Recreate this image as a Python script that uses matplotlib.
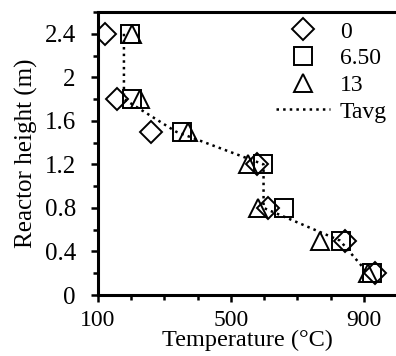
import matplotlib
matplotlib.use("Agg")
import matplotlib.pyplot as plt
from matplotlib.ticker import MultipleLocator, FuncFormatter

heights = [2.4, 1.8, 1.5, 1.2, 0.8, 0.5, 0.2]
T_0 = [121, 156, 259, 578, 611, 843, 933]
T_650 = [196, 201, 352, 596, 659, 830, 923]
T_13 = [201, 226, 370, 552, 581, 768, 912]
T_avg = [178, 178, 335, 598, 598, 828, 912]
labels = ["0", "6.50", "13", "Tavg"]
x_ticks = [100, 500, 900]

plt.rcParams['font.family'] = ['Liberation Serif', 'DejaVu Serif']
FS = 18

fig = plt.figure(figsize=(3.96, 3.56), dpi=100)
ax = fig.add_axes([98/396, 1-295/356, 1.0 - 98/396 + 0.003, (295-12)/356])

mk = dict(linestyle='none', markerfacecolor='none', markeredgecolor='black', markeredgewidth=1.4)
ax.plot(T_0, heights, marker='D', markersize=11, label=labels[0], **mk)
ax.plot(T_650, heights, marker='s', markersize=12.5, label=labels[1], **mk)
ax.plot(T_13, heights, marker='^', markersize=12.5, label=labels[2], **mk)
ax.plot(T_avg, heights, linestyle=':', color='black', linewidth=1.8, label=labels[3])

ax.set_xlim(100, 1000)
ax.set_ylim(0, 2.6)
ax.set_xticks(x_ticks)
ax.set_xticklabels([str(v) for v in x_ticks])
ax.xaxis.set_minor_locator(MultipleLocator(100))
ax.yaxis.set_major_locator(MultipleLocator(0.4))
ax.yaxis.set_minor_locator(MultipleLocator(0.2))
ax.yaxis.set_major_formatter(FuncFormatter(lambda v, p: f"{v:g}"))

for s in ['left', 'bottom', 'top']:
    ax.spines[s].set_linewidth(2.2)
ax.spines['right'].set_visible(False)
ax.tick_params(which='major', direction='out', length=5, width=1.8, labelsize=FS)
ax.tick_params(which='minor', direction='out', length=3.5, width=1.8)
ax.tick_params(axis='x', which='major', pad=6, labelsize=17)
ax.tick_params(axis='y', which='major', pad=11)

ax.set_xlabel("Temperature (°C)", fontsize=17.5, labelpad=-1)
ax.set_ylabel("Reactor height (m)", fontsize=FS, labelpad=5)

leg = ax.legend(loc='upper right', bbox_to_anchor=(387/396, 1-21/356),
                bbox_transform=fig.transFigure, frameon=False,
                handlelength=2.3, handletextpad=0.4, labelspacing=0.22,
                fontsize=17, borderaxespad=0, borderpad=0)

fig.savefig("out.png", dpi=100)
